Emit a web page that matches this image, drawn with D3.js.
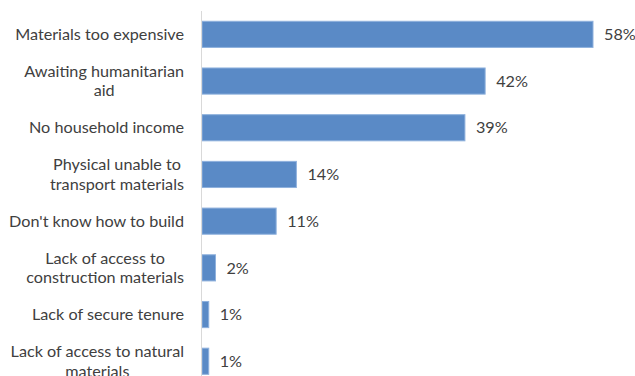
<!DOCTYPE html>
<html>
<head>
<meta charset="utf-8">
<script src="https://cdn.jsdelivr.net/npm/d3@7/dist/d3.min.js"></script>
<style>
  html, body { margin: 0; padding: 0; background: #fff; }
  svg { display: block; }
  text { font-family: Lato, "Open Sans", sans-serif; fill: #404040; }
</style>
</head>
<body>
<svg id="chart" width="635" height="376"></svg>
<script>
// Reasons given for not rebuilding (share of respondents, %)
const categories = [
  ["Materials too expensive"],
  ["Awaiting humanitarian", "aid"],
  ["No household income"],
  ["Physical unable to", "transport materials"],
  ["Don't know how to build"],
  ["Lack of access to", "construction materials"],
  ["Lack of secure tenure"],
  ["Lack of access to natural", "materials"]
];
const values = [58, 42, 39, 14, 11, 2, 1, 1];
const valueLabels = ["58%", "42%", "39%", "14%", "11%", "2%", "1%", "1%"];

const svg = d3.select("#chart");
const axisX = 201.5;
const plotTop = 11, plotBottom = 384.6;
const fontSize = 16.2;

const y = d3.scaleBand()
  .domain(d3.range(categories.length))
  .range([plotTop, plotBottom])
  .paddingInner(0.44)
  .paddingOuter(0.22);

const x = d3.scaleLinear().domain([0, 58]).range([axisX + 0.5, 593]);

// bars
svg.append("g").selectAll("rect")
  .data(values)
  .join("rect")
  .attr("x", x(0))
  .attr("y", (d, i) => y(i))
  .attr("width", d => x(d) - x(0))
  .attr("height", y.bandwidth())
  .attr("fill", "#5a8ac6")
  .attr("stroke", "#8fb1dd")
  .attr("stroke-width", 1);

// value labels
svg.append("g").selectAll("text")
  .data(values)
  .join("text")
  .attr("x", d => x(d) + 11)
  .attr("y", (d, i) => y(i) + y.bandwidth() / 2)
  .attr("dy", "0.35em")
  .attr("font-size", fontSize)
  .text((d, i) => valueLabels[i]);

// category axis line
svg.append("line")
  .attr("x1", axisX).attr("x2", axisX)
  .attr("y1", plotTop).attr("y2", plotBottom)
  .attr("stroke", "#d9d9d9")
  .attr("stroke-width", 1);

// category labels, multi-line ones centred on each other and right-aligned as a block
const lineH = 19.5;
const labels = svg.append("g");
categories.forEach((lines, i) => {
  const cy = y(i) + y.bandwidth() / 2;
  const g = labels.append("g");
  const t = g.append("text")
    .attr("font-size", fontSize)
    .attr("text-anchor", "middle");
  lines.forEach((ln, j) => {
    t.append("tspan")
      .attr("x", 0)
      .attr("y", cy + (j - (lines.length - 1) / 2) * lineH)
      .attr("dy", "0.35em")
      .text(ln);
  });
  const w = t.node().getBBox().width;
  g.attr("transform", `translate(${184 - w / 2},0)`);
});
</script>
</body>
</html>
